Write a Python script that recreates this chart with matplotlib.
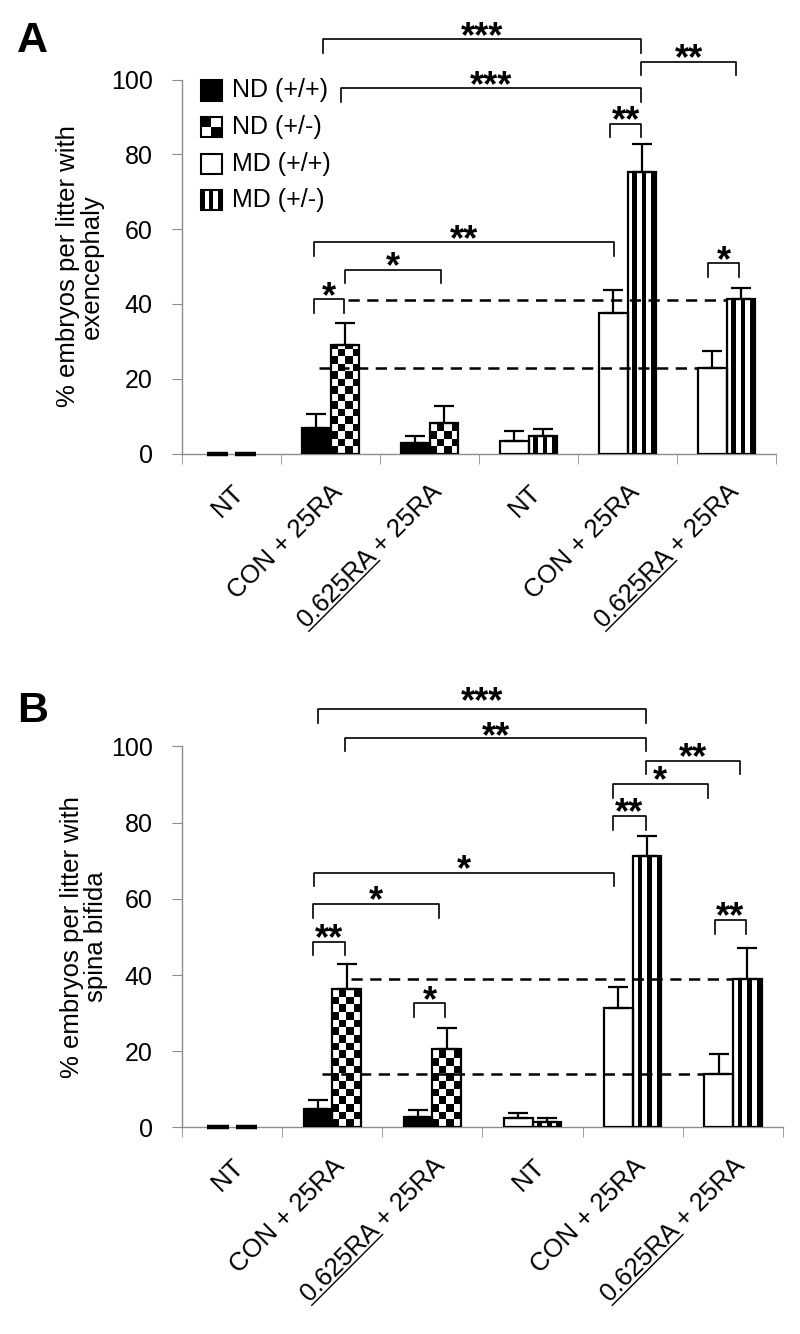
import numpy as np
import matplotlib
matplotlib.use('Agg')
import matplotlib.pyplot as plt
from matplotlib.patches import Rectangle
from matplotlib.lines import Line2D

plt.rcParams['font.family'] = ['Liberation Sans', 'DejaVu Sans']

groups = ['NT', 'CON + 25RA', '0.625RA + 25RA', 'NT', 'CON + 25RA', '0.625RA + 25RA']
underlined = [None, None, '0.625RA', None, None, '0.625RA']
legend_labels = ['ND (+/+)', 'ND (+/-)', 'MD (+/+)', 'MD (+/-)']

# panel A - exencephaly (ND groups 0-2, MD groups 3-5)
exe_nd_wt = [0, 6.9, 2.7]
exe_nd_wt_err = [0, 3.7, 2.0]
exe_nd_het = [0, 29.0, 8.1]
exe_nd_het_err = [0, 6.0, 4.6]
exe_md_wt = [3.3, 37.7, 22.8]
exe_md_wt_err = [2.7, 6.0, 4.7]
exe_md_het = [4.7, 75.3, 41.2]
exe_md_het_err = [1.9, 7.4, 3.0]
# significance brackets: (x1, x2, y, stars, text nudge in pt)
exe_sig = [(0.92, 4.14, 110.7, '***', 0), (4.14, 5.10, 104.8, '**', 0),
           (1.11, 4.14, 97.6, '***', 0), (3.82, 4.14, 88.1, '**', 0),
           (0.83, 3.86, 56.5, '**', 0), (1.15, 2.12, 49.1, '*', 0),
           (0.83, 1.14, 41.2, '*', 0), (4.81, 5.13, 50.9, '*', 0)]
exe_dashed = [(0.88, 4.71, 22.8), (1.18, 4.99, 41.0)]

# panel B - spina bifida
sb_nd_wt = [0, 4.8, 2.7]
sb_nd_wt_err = [0, 2.4, 1.9]
sb_nd_het = [0, 36.3, 20.6]
sb_nd_het_err = [0, 6.5, 5.4]
sb_md_wt = [2.4, 31.4, 14.0]
sb_md_wt_err = [1.5, 5.5, 5.3]
sb_md_het = [1.5, 71.3, 38.9]
sb_md_het_err = [0.9, 5.3, 8.1]
sb_sig = [(0.86, 4.13, 109.8, '***', 3.5), (1.13, 4.13, 102.3, '**', -1),
          (4.13, 5.07, 96.3, '**', 0), (3.80, 4.75, 90.2, '*', 0),
          (3.80, 4.13, 81.8, '**', 0), (0.82, 3.81, 66.9, '*', 0),
          (0.81, 2.07, 58.7, '*', 0), (0.81, 1.13, 48.8, '**', 0),
          (1.82, 2.13, 32.6, '*', 0), (4.82, 5.13, 54.5, '**', 0)]
sb_dashed = [(0.90, 4.71, 14.0), (1.19, 5.0, 38.9)]

W = 0.2857
LW = 1.6
GRAY = '#8c8c8c'


def checker(ax, bar, cell_h=2.0, ncols=4):
    h = bar.get_height()
    if h <= 0:
        return
    x0, w = bar.get_x(), bar.get_width()
    nrows = int(np.ceil(h / cell_h))
    grid = np.indices((nrows, ncols)).sum(axis=0) % 2
    im = ax.imshow(grid, cmap='gray', extent=(x0, x0 + w, 0, nrows * cell_h),
                   origin='lower', aspect='auto', interpolation='nearest', zorder=2.1)
    im.set_clip_path(bar)


def stripes(ax, bar):
    x0, w, h = bar.get_x(), bar.get_width(), bar.get_height()
    for k in (1, 3, 5):
        ax.bar(x0 + k * w / 6, h, w / 6, align='edge', color='black', lw=0, zorder=2.1)


def draw_panel(ax, nd_wt, nd_wt_err, nd_het, nd_het_err, md_wt, md_wt_err,
               md_het, md_het_err, sig, dashed, ylabel, label_x):
    x_nd = np.arange(3)
    x_md = np.arange(3, 6)
    xl = np.concatenate([x_nd, x_md]) - W / 2
    xr = np.concatenate([x_nd, x_md]) + W / 2
    left = np.array(nd_wt + md_wt, dtype=float)
    right = np.array(nd_het + md_het, dtype=float)
    left_err = np.array(nd_wt_err + md_wt_err, dtype=float)
    right_err = np.array(nd_het_err + md_het_err, dtype=float)

    ax.bar(x_nd - W / 2, nd_wt, W, color='black', lw=0, zorder=2)
    ax.bar(x_md - W / 2, md_wt, W, color='white', lw=0, zorder=2)
    b_het = ax.bar(x_nd + W / 2, nd_het, W, color='white', lw=0, zorder=2)
    b_mdhet = ax.bar(x_md + W / 2, md_het, W, color='white', lw=0, zorder=2)
    for bar in b_het:
        checker(ax, bar)
    for bar in b_mdhet:
        stripes(ax, bar)
    # outlines (zero-height bars show as short thick dashes)
    xs_all = np.concatenate([xl, xr])
    vals_all = np.concatenate([left, right])
    nz = vals_all > 0
    ax.bar(xs_all[nz], vals_all[nz], W, fill=False, edgecolor='black', lw=LW, zorder=3)
    for x in xs_all[~nz]:
        ax.plot([x - W * 0.38, x + W * 0.38], [0, 0], color='black', lw=3.2,
                solid_capstyle='butt', clip_on=False, zorder=3)

    # plus-only error bars
    for xs, vals, errs in ((xl, left, left_err), (xr, right, right_err)):
        m = errs > 0
        ax.errorbar(xs[m], vals[m], yerr=[np.zeros(m.sum()), errs[m]], fmt='none',
                    ecolor='black', elinewidth=LW, capsize=7, capthick=LW, zorder=4)

    for x1, x2, y in dashed:
        ax.plot([x1, x2], [y, y], color='black', lw=1.8, ls=(0, (4.5, 3)), zorder=5)

    for x1, x2, y, stars, nudge in sig:
        ax.plot([x1, x1, x2, x2], [y - 3.6, y, y, y - 3.6], color='black', lw=1.2,
                clip_on=False, zorder=5)
        ax.annotate(stars, xy=((x1 + x2) / 2, y), xytext=(0, -5.5 + nudge),
                    textcoords='offset points', ha='center', va='baseline',
                    fontsize=26, fontweight='bold', annotation_clip=False)

    ax.set_xlim(-0.5, 5.5)
    ax.set_ylim(0, 100)
    ax.set_yticks(np.arange(0, 101, 20))
    ax.set_xticks(np.arange(6))
    ax.set_xticklabels(groups, rotation=45, ha='right', va='top', rotation_mode='anchor')
    ax.set_xticks(np.arange(-0.5, 6, 1), minor=True)
    ax.tick_params(axis='x', which='major', length=0, pad=19, labelsize=18.5)
    ax.tick_params(axis='x', which='minor', length=7, color=GRAY, direction='out')
    ax.tick_params(axis='y', length=7, color=GRAY, direction='out', labelsize=18, pad=14)
    for s in ('top', 'right'):
        ax.spines[s].set_visible(False)
    for s in ('left', 'bottom'):
        ax.spines[s].set_color(GRAY)
        ax.spines[s].set_linewidth(1.0)
    ax.set_ylabel(ylabel, fontsize=18.5, linespacing=1.0, va='center')
    ax.yaxis.set_label_coords(label_x, 0.5)


def underline_ticklabels(fig, ax, parts):
    r = fig.canvas.get_renderer()
    for lab, part in zip(ax.get_xticklabels(), parts):
        if not part:
            continue
        fp = lab.get_fontproperties()
        w_all = r.get_text_width_height_descent(lab.get_text(), fp, ismath=False)[0]
        w_part = r.get_text_width_height_descent(part, fp, ismath=False)[0]
        d = r.get_text_width_height_descent('lp', fp, ismath=False)[2]
        bb = lab.get_window_extent(r)
        ang = np.deg2rad(lab.get_rotation())
        c, s = np.cos(ang), np.sin(ang)
        h = (bb.width - w_all * c) / s
        ox, oy = bb.x0 + h * s, bb.y0
        k = d * 0.45
        bx, by = ox - k * s, oy + k * c
        pts = fig.transFigure.inverted().transform([[bx, by], [bx + w_part * c, by + w_part * s]])
        fig.add_artist(Line2D(pts[:, 0], pts[:, 1], color='black', lw=1.0))


fig = plt.figure(figsize=(8, 13.34), dpi=100)
axA = fig.add_axes([0.2275, 0.66004, 0.7425, 0.28036])
axB = fig.add_axes([0.2275, 0.15480, 0.75125, 0.28561])

draw_panel(axA, exe_nd_wt, exe_nd_wt_err, exe_nd_het, exe_nd_het_err, exe_md_wt,
           exe_md_wt_err, exe_md_het, exe_md_het_err, exe_sig, exe_dashed,
           '% embryos per litter with\nexencephaly', -0.172)
draw_panel(axB, sb_nd_wt, sb_nd_wt_err, sb_nd_het, sb_nd_het_err, sb_md_wt,
           sb_md_wt_err, sb_md_het, sb_md_het_err, sb_sig, sb_dashed,
           '% embryos per litter with\nspina bifida', -0.163)

# legend drawn by hand in panel A
ix, iw, ih = 0.0315, 0.0354, 0.0561
rows = [0.9719, 0.8730, 0.7741, 0.6778]
for i, (lab, yc) in enumerate(zip(legend_labels, rows)):
    y0 = yc - ih / 2
    face = 'black' if i == 0 else 'white'
    axA.add_patch(Rectangle((ix, y0), iw, ih, transform=axA.transAxes, facecolor=face,
                            lw=0, clip_on=False, zorder=6))
    if i == 1:
        for dx, dy in ((0, 1), (1, 0)):
            axA.add_patch(Rectangle((ix + dx * iw / 2, y0 + dy * ih / 2), iw / 2, ih / 2,
                                    transform=axA.transAxes, facecolor='black', lw=0,
                                    clip_on=False, zorder=6))
    if i == 3:
        for k in (0, 2, 4):
            axA.add_patch(Rectangle((ix + k * iw / 5, y0), iw / 5, ih, transform=axA.transAxes,
                                    facecolor='black', lw=0, clip_on=False, zorder=6))
    axA.add_patch(Rectangle((ix, y0), iw, ih, transform=axA.transAxes, fill=False,
                            edgecolor='black', lw=1.5, clip_on=False, zorder=7))
    axA.text(0.0837, yc, lab, transform=axA.transAxes, fontsize=18, va='center', ha='left')

fig.text(17 / 800, 1 - 52 / 1334, 'A', fontsize=31, fontweight='bold', ha='left', va='baseline')
fig.text(17 / 800, 1 - 722 / 1334, 'B', fontsize=31, fontweight='bold', ha='left', va='baseline')

fig.canvas.draw()
underline_ticklabels(fig, axA, underlined)
underline_ticklabels(fig, axB, underlined)

fig.savefig('out.png', dpi=100)
